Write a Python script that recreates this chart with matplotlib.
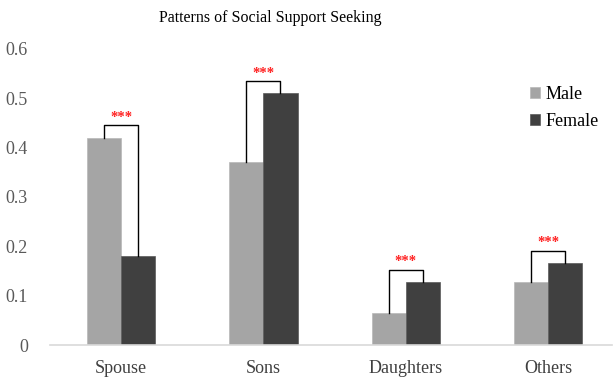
import matplotlib.pyplot as plt
import numpy as np

categories = ["Spouse", "Sons", "Daughters", "Others"]
male = [0.42, 0.37, 0.065, 0.128]
female = [0.18, 0.51, 0.128, 0.166]
sig_labels = ["***", "***", "***", "***"]

plt.rcParams['font.family'] = ['Liberation Serif', 'DejaVu Serif']

fig = plt.figure(figsize=(6.14, 3.79), dpi=100)
ax = fig.add_axes([50 / 614, 1 - 345 / 379, 562 / 614, 296 / 379])

x = np.arange(len(categories))
w = 0.24
ax.bar(x - w / 2, male, w, color='#a5a5a5', label='Male', edgecolor='#b8b8b8', linewidth=0.5)
ax.bar(x + w / 2, female, w, color='#404040', label='Female', edgecolor='#5a5a5a', linewidth=0.5)

# significance brackets
for i in range(len(categories)):
    top = max(male[i], female[i]) + 0.025
    ax.plot([x[i] - w / 2, x[i] - w / 2, x[i] + w / 2, x[i] + w / 2],
            [male[i], top, top, female[i]], color='black', linewidth=1)
    ax.text(x[i], top + 0.003, sig_labels[i], color='#ff2020', ha='center', va='bottom',
            fontsize=10.5, fontweight='bold')

ax.set_xlim(-0.5, 3.45)
ax.set_ylim(0, 0.6)
ax.set_yticks(np.arange(0, 0.61, 0.1))
ax.set_yticklabels(["0", "0.1", "0.2", "0.3", "0.4", "0.5", "0.6"])
ax.set_xticks(x)
ax.set_xticklabels(categories)
ax.tick_params(axis='both', length=0, labelsize=13, labelcolor='#595959')
ax.tick_params(axis='y', pad=16)
ax.tick_params(axis='x', pad=11, labelcolor='#404040')
for s in ['top', 'right', 'left']:
    ax.spines[s].set_visible(False)
ax.spines['bottom'].set_color('#d9d9d9')
ax.spines['bottom'].set_linewidth(1.2)

fig.text(270 / 614, 1 - 18 / 379, "Patterns of Social Support Seeking", ha='center', va='center',
         fontsize=11.5)

ax.legend(loc='upper left', bbox_to_anchor=(0.826, 0.93), frameon=False, fontsize=13,
          handlelength=0.55, handleheight=0.55, handletextpad=0.3, labelspacing=0.55)

fig.savefig("out.png", dpi=100)
